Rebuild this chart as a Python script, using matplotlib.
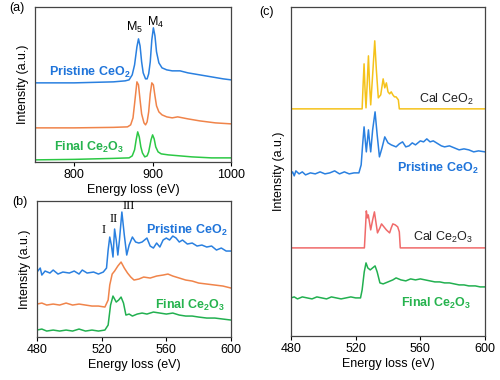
import numpy as np
import matplotlib.pyplot as plt

plt.rcParams['font.family'] = ['Liberation Sans', 'DejaVu Sans']
plt.rcParams['mathtext.fontset'] = 'custom'
plt.rcParams['mathtext.rm'] = 'Liberation Sans'
plt.rcParams['mathtext.bf'] = 'Liberation Sans:bold'

BLUE = '#2a80e0'
ORANGE = '#f0844a'
GREEN_A = '#2cc845'
GREEN = '#22b050'
YELLOW = '#f5c21a'
RED = '#f06a6a'
LBL_BLUE = '#1f74da'
LBL_GREEN = '#26b34e'

# ---- (a) Ce M4,5 edge ----
a_blue_e = [750, 775, 800, 825, 850, 865, 870, 874, 877, 880, 882, 884, 886, 888, 891, 893,
            895, 897, 899, 901, 903, 905, 908, 912, 918, 925, 935, 945, 960, 975, 990, 1000]
a_blue_i = [79, 79, 79, 79.5, 80, 81, 82, 87, 97, 115, 123, 116, 100, 89, 83, 83,
            88, 100, 122, 134, 126, 110, 99, 94, 92, 91, 91, 89, 87, 85, 83, 82]
a_orange_e = [750, 800, 850, 868, 872, 875, 877, 880, 882, 884, 886, 889, 891, 893, 895, 897,
              899, 901, 903, 905, 908, 912, 918, 925, 932, 945, 960, 980, 1000]
a_orange_i = [34, 34, 34.5, 35, 37, 44, 58, 80, 77, 62, 48, 39, 37, 40, 50, 68,
              79, 77, 66, 56, 50, 47, 45, 44, 45, 43, 41, 39, 38]
a_green_e = [750, 800, 850, 870, 874, 877, 879, 881, 883, 885, 887, 890, 893, 895, 898, 900,
             902, 904, 907, 911, 920, 935, 950, 975, 1000]
a_green_i = [2, 2.5, 3.5, 4, 6, 12, 22, 30, 25, 15, 9, 5, 6, 10, 22, 27,
             23, 15, 10, 8, 7, 6, 5, 4, 4]

# ---- (b) O K edge ----
b_blue_e = [480, 482, 483, 485, 488, 490, 493, 496, 500, 503, 506, 508, 511, 515, 518, 521,
            523, 524, 525, 526, 527, 528, 529, 530, 531, 532.5, 534, 535.5, 537, 539, 541,
            543, 545, 548, 550, 552, 554, 556, 558, 560, 562, 564, 566, 568, 570, 573, 576,
            579, 582, 585, 588, 591, 594, 597, 600]
b_blue_i = [65, 69, 62, 66, 64, 67, 63, 65, 64, 66, 63, 67, 64, 65, 63, 65,
            69, 87, 100, 92, 80, 108, 97, 82, 97, 125, 102, 82, 92, 100, 95,
            94, 95, 99, 91, 89, 94, 90, 97, 99, 97, 101, 99, 95, 97, 93, 94,
            91, 92, 90, 91, 87, 89, 86, 86]
b_orange_e = [480, 483, 486, 490, 494, 498, 502, 506, 510, 514, 518, 522, 524, 525, 526.5,
              528, 530, 532, 534, 536, 538, 540, 543, 546, 550, 554, 558, 561, 564, 568, 572,
              576, 580, 585, 590, 595, 600]
b_orange_i = [33, 34, 32, 33, 32, 34, 32, 33, 32, 31, 31, 30, 37, 52, 63,
              66, 71, 75, 69, 64, 60, 57, 58, 60, 59, 61, 62, 63, 61, 59, 57,
              56, 54, 53, 52, 51, 49]
b_green_e = [480, 483, 486, 490, 494, 498, 502, 506, 510, 514, 518, 522, 524, 525.5, 527,
             529, 530.5, 532, 533.5, 535, 537, 539, 542, 545, 548, 552, 556, 560, 564, 568,
             572, 576, 580, 585, 590, 595, 600]
b_green_i = [7, 8, 6, 7, 6, 7, 6, 8, 6, 7, 6, 7, 12, 32, 41,
             35, 37, 40, 34, 22, 23, 21, 23, 24, 23, 25, 24, 23, 24, 22,
             21, 21, 20, 19, 19, 18, 17]

# ---- (c) O K edge vs calculation ----
c_cal_ceo2_e = [480, 524, 524.6, 525.2, 525.8, 526.4, 527.1, 527.9, 528.6, 529.3, 530.5, 531.8,
                532.8, 534, 535.5, 537, 538, 539, 540, 541, 542, 543, 544, 545, 546.4, 547, 600]
c_cal_ceo2_i = [227, 227, 251, 272, 246, 228, 251, 280, 251, 231, 261, 295,
                266, 238, 241, 257, 248, 253, 244, 242, 244, 241, 239, 239, 236, 227, 227]
c_blue_e = [480, 481, 482, 483, 485, 487, 489, 492, 495, 498, 501, 504, 507, 510, 513, 516,
            519, 522, 523.4, 524.3, 525.2, 525.9, 526.6, 527.3, 527.9, 528.6, 529.3, 530.5,
            532, 533.3, 534.7, 536.3, 538, 540, 542, 545, 547, 549, 551, 553, 555, 557, 560,
            562, 564, 566, 568, 570, 573, 575, 578, 581, 584, 587, 590, 593, 596, 600]
c_blue_i = [162, 164, 160, 165, 162, 164, 161, 163, 162, 164, 162, 163, 165, 162, 164, 162,
            163, 163, 171, 191, 209, 196, 184, 196, 206, 194, 184, 206,
            224, 201, 179, 188, 199, 193, 191, 189, 192, 194, 189, 190, 193, 191, 195,
            194, 197, 194, 195, 193, 190, 189, 190, 188, 186, 187, 186, 184, 185, 184]
c_cal_ce2o3_e = [480, 525.4, 526, 526.6, 527.2, 527.8, 528.5, 529.3, 530.5, 531.6, 532.5, 533.5,
                 535, 536, 537.5, 539, 541, 542, 543, 544.5, 546, 547, 547.6, 600]
c_cal_ce2o3_i = [88, 88, 106, 125, 118, 121, 114, 106, 116, 124, 114, 103,
                 108, 112, 109, 106, 103, 108, 112, 111, 109, 104, 88, 88]
c_green_e = [480, 482, 484, 487, 490, 493, 496, 499, 502, 505, 508, 511, 514, 517, 520, 523,
             524, 525.3, 526.4, 527.5, 529, 530.5, 532, 533.3, 535, 537, 540, 543, 545, 548,
             551, 554, 557, 560, 563, 566, 569, 572, 575, 578, 581, 584, 587, 590, 594, 597, 600]
c_green_i = [38, 39, 37, 39, 38, 37, 39, 38, 37, 39, 38, 37, 38, 39, 38, 38,
             46, 64, 73, 68, 66, 68, 70, 64, 53, 52, 54, 56, 58, 56,
             55, 57, 56, 57, 56, 55, 54, 54, 53, 53, 52, 51, 51, 50, 50, 49, 49]

fig = plt.figure(figsize=(5, 3.8), dpi=100)
ax_a = fig.add_axes([0.070, 0.574, 0.392, 0.408])
ax_b = fig.add_axes([0.074, 0.113, 0.388, 0.358])
ax_c = fig.add_axes([0.582, 0.116, 0.388, 0.866])

FS = 9
lw = 1.1


def style(ax, xlim, ylim, ticks):
    ax.set_xlim(*xlim)
    ax.set_ylim(*ylim)
    ax.set_xticks(ticks)
    ax.set_yticks([])
    ax.tick_params(axis='x', labelsize=FS, length=3, width=0.8, pad=2)
    for s in ax.spines.values():
        s.set_color('#444444')
        s.set_linewidth(0.9)
    ax.set_xlabel('Energy loss (eV)', fontsize=FS, labelpad=2)
    ax.set_ylabel('Intensity (a.u.)', fontsize=FS, labelpad=4)


ax_a.plot(a_blue_e, a_blue_i, color=BLUE, lw=lw)
ax_a.plot(a_orange_e, a_orange_i, color=ORANGE, lw=lw)
ax_a.plot(a_green_e, a_green_i, color=GREEN_A, lw=lw)
style(ax_a, (750, 1000), (0, 155), [800, 900, 1000])
ax_a.text(0.28, 0.58, r'Pristine CeO$_\mathbf{2}$', transform=ax_a.transAxes, color=LBL_BLUE,
          fontsize=FS, fontweight='bold', ha='center', va='center')
ax_a.text(0.276, 0.09, r'Final Ce$_\mathbf{2}$O$_\mathbf{3}$', transform=ax_a.transAxes,
          color=LBL_GREEN, fontsize=FS, fontweight='bold', ha='center', va='center')
ax_a.text(0.51, 0.865, r'M$_5$', transform=ax_a.transAxes, fontsize=FS, ha='center', va='center')
ax_a.text(0.615, 0.9, r'M$_4$', transform=ax_a.transAxes, fontsize=FS, ha='center', va='center')

ax_b.plot(b_blue_e, b_blue_i, color=BLUE, lw=lw)
ax_b.plot(b_orange_e, b_orange_i, color=ORANGE, lw=lw)
ax_b.plot(b_green_e, b_green_i, color=GREEN, lw=lw)
style(ax_b, (480, 600), (0, 136), [480, 520, 560, 600])
ax_b.text(0.773, 0.787, r'Pristine CeO$_\mathbf{2}$', transform=ax_b.transAxes, color=LBL_BLUE,
          fontsize=FS, fontweight='bold', ha='center', va='center')
ax_b.text(0.79, 0.235, r'Final Ce$_\mathbf{2}$O$_\mathbf{3}$', transform=ax_b.transAxes,
          color=LBL_GREEN, fontsize=FS, fontweight='bold', ha='center', va='center')
for txt, x, y in [('I', 0.345, 0.787), ('II', 0.397, 0.868), ('III', 0.475, 0.965)]:
    ax_b.text(x, y, txt, transform=ax_b.transAxes, fontsize=9, family='Liberation Serif',
              ha='center', va='center')

ax_c.plot(c_cal_ceo2_e, c_cal_ceo2_i, color=YELLOW, lw=lw)
ax_c.plot(c_blue_e, c_blue_i, color=BLUE, lw=lw)
ax_c.plot(c_cal_ce2o3_e, c_cal_ce2o3_i, color=RED, lw=lw)
ax_c.plot(c_green_e, c_green_i, color=GREEN, lw=lw)
style(ax_c, (480, 600), (0, 329), [480, 520, 560, 600])
ax_c.text(0.80, 0.72, r'Cal CeO$_2$', transform=ax_c.transAxes, fontsize=FS,
          ha='center', va='center', color='#222222')
ax_c.text(0.758, 0.508, r'Pristine CeO$_\mathbf{2}$', transform=ax_c.transAxes, color=LBL_BLUE,
          fontsize=FS, fontweight='bold', ha='center', va='center')
ax_c.text(0.783, 0.30, r'Cal Ce$_2$O$_3$', transform=ax_c.transAxes, fontsize=FS,
          ha='center', va='center', color='#222222')
ax_c.text(0.747, 0.10, r'Final Ce$_\mathbf{2}$O$_\mathbf{3}$', transform=ax_c.transAxes,
          color=LBL_GREEN, fontsize=FS, fontweight='bold', ha='center', va='center')

fig.text(0.034, 0.979, '(a)', fontsize=FS, ha='center', va='center')
fig.text(0.040, 0.469, '(b)', fontsize=FS, ha='center', va='center')
fig.text(0.532, 0.968, '(c)', fontsize=FS, ha='center', va='center')

fig.savefig('out.png', dpi=100)
